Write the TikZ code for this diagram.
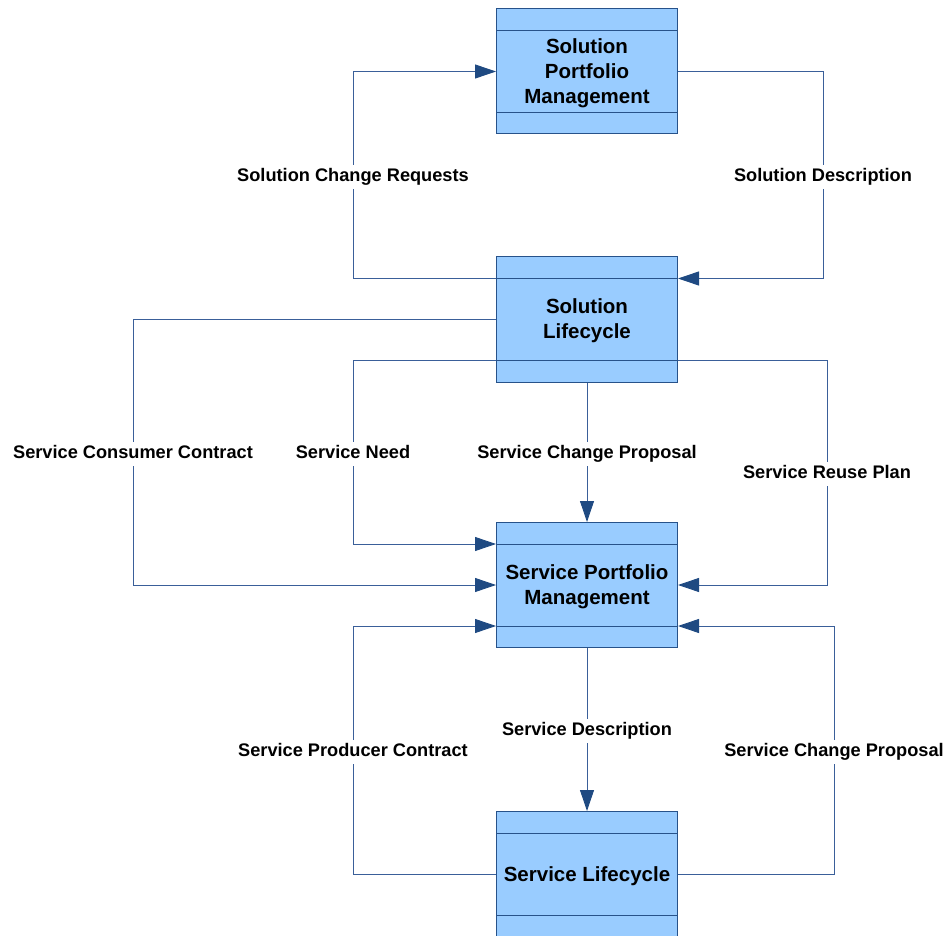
\documentclass[tikz,border=0pt]{standalone}
\usepackage{fontspec}
\setmainfont{Liberation Sans}
\usetikzlibrary{arrows.meta}
\definecolor{boxfill}{HTML}{99CCFF}
\definecolor{boxline}{HTML}{27528A}
\definecolor{connline}{HTML}{3A5F99}
\definecolor{tipcol}{HTML}{1F4A82}
\begin{document}
\begin{tikzpicture}[x=1pt,y=-1pt,
 box/.style={draw=boxline, fill=boxfill, line width=1pt, minimum width=181pt, minimum height=125pt, inner sep=0pt},
 boxtext/.style={inner sep=0pt, align=center, font=\fontsize{20.5}{25}\selectfont\bfseries},
 secline/.style={draw=boxline, line width=1pt},
 conn/.style={draw=connline, line width=0.9pt},
 arr/.style={conn, -{Triangle[length=21pt,width=14pt,color=tipcol,fill=tipcol]}},
 lbl/.style={fill=white, inner sep=3pt, text height=13.5pt, text depth=4pt, anchor=base, yshift=-6.7pt, font=\fontsize{18.2}{20}\selectfont\bfseries}]
\useasboundingbox (0,0) rectangle (946,936);
\node[box] (spm) at (587,71.5) {};
\node[box] (sol) at (587,319.5) {};
\node[box] (svpm) at (587,585) {};
\node[box] (svl) at (587,874) {};
\foreach \n in {spm,sol,svpm,svl} {
  \draw[secline] ([yshift=-22pt]\n.north west) -- ([yshift=-22pt]\n.north east);
  \draw[secline] ([yshift=22pt]\n.south west) -- ([yshift=22pt]\n.south east);
}
\coordinate (solTW) at ([yshift=-22pt]sol.north west);
\coordinate (solTE) at ([yshift=-22pt]sol.north east);
\coordinate (solBW) at ([yshift=22pt]sol.south west);
\coordinate (solBE) at ([yshift=22pt]sol.south east);
\coordinate (svpmTW) at ([yshift=-22pt]svpm.north west);
\coordinate (svpmBW) at ([yshift=22pt]svpm.south west);
\coordinate (svpmBE) at ([yshift=22pt]svpm.south east);
% connectors
\draw[arr] (solTW) -| (353,0 |- spm.west) -- (spm.west);
\draw[arr] (spm.east) -| (823,0 |- solTE) -- (solTE);
\draw[arr] (sol.west) -| (133,0 |- svpm.west) -- (svpm.west);
\draw[arr] (solBW) -| (353,0 |- svpmTW) -- (svpmTW);
\draw[arr] (solBE) -| (827,0 |- svpm.east) -- (svpm.east);
\draw[arr] (sol.south) -- (svpm.north);
\draw[arr] (svpm.south) -- (svl.north);
\draw[arr] (svl.west) -| (353,0 |- svpmBW) -- (svpmBW);
\draw[arr] (svl.east) -| (834,0 |- svpmBE) -- (svpmBE);
% box texts
\node[boxtext] (spmT) at ([yshift=-2pt]spm.center) {Solution\\Portfolio\\Management};
\node[boxtext] (solT) at ([yshift=-1.5pt]sol.center) {Solution\\Lifecycle};
\node[boxtext] (svpmT) at ([yshift=-2pt]svpm.center) {Service Portfolio\\Management};
\node[boxtext] (svlT) at ([yshift=-2pt]svl.center) {Service Lifecycle};
% labels
\node[lbl] (l1) at (353,175) {Solution Change Requests};
\node[lbl] (l2) at (823,175) {Solution Description};
\node[lbl] (l3) at (133,452) {Service Consumer Contract};
\node[lbl] (l4) at (353,452) {Service Need};
\node[lbl] (l5) at (587,452) {Service Change Proposal};
\node[lbl] (l6) at (827,472) {Service Reuse Plan};
\node[lbl] (l7) at (587,729) {Service Description};
\node[lbl] (l8) at (353,750) {Service Producer Contract};
\node[lbl] (l9) at (834,750) {Service Change Proposal};
\end{tikzpicture}
\end{document}
